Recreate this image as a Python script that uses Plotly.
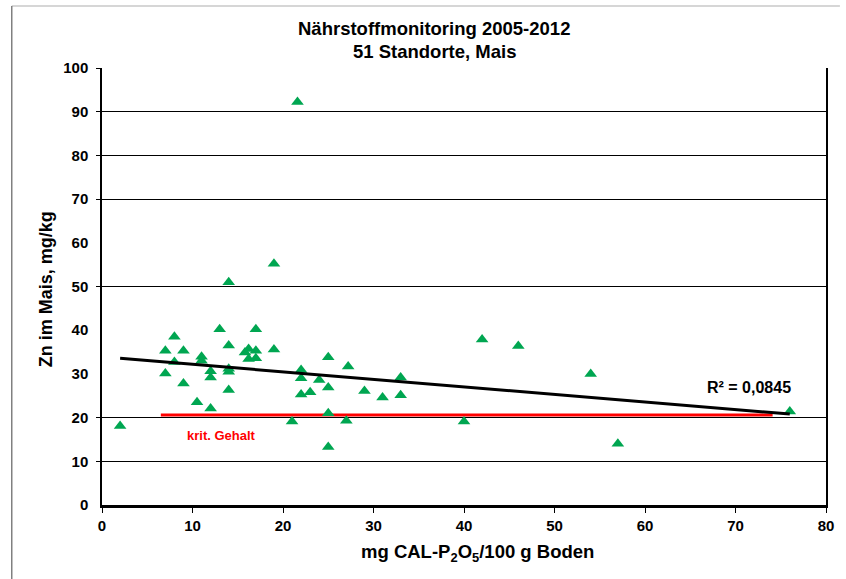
import numpy as np
import plotly.graph_objects as go

# data (main series, used for the trend line)
p2o5 = [2, 8, 7, 9, 8, 7, 9, 10.5, 12, 11, 11, 12, 12, 13, 14, 14, 14, 14, 14,
        17, 15.8, 16.2, 16.2, 17, 17, 19, 19, 22, 22, 22, 23, 24, 25, 25,
        25, 25, 27.2, 27, 21, 29, 31, 33, 33, 42, 46, 54, 76, 40, 57]
zn = [18.1, 38.5, 35.3, 35.3, 32.7, 30.1, 27.8, 23.5, 22.1, 33.9, 33.0, 30.6,
      29.2, 40.2, 36.5, 31.2, 30.5, 26.3, 51.0, 40.2, 34.9, 35.7, 33.4, 35.3,
      33.6, 35.6, 55.2, 30.9, 29.0, 25.3, 25.8, 28.6, 33.8, 26.9, 21.0,
      13.3, 31.7, 19.3, 19.1, 26.1, 24.6, 29.2, 25.1, 37.9, 36.4, 30.0, 21.4,
      19.1, 14.0]
# outlier point (not part of the trend)
outlier_p2o5 = [21.6]
outlier_zn = [92.2]

krit_value = 20.6
krit_x = [6.5, 74.1]
r2_text = "R² = 0,0845"

x_ticks = list(range(0, 81, 10))
y_ticks = list(range(0, 101, 10))
# gridlines / tick marks visible in the reference
y_grid = [10, 20, 50, 70, 80, 90, 100]

# linear trend from the main series
slope, intercept = np.polyfit(p2o5, zn, 1)
tx = np.array([min(p2o5), max(p2o5)])
ty = slope * tx + intercept

green = "#00A651"
fig = go.Figure()
fig.add_trace(go.Scatter(x=krit_x, y=[krit_value, krit_value], mode="lines",
                         line=dict(color="#FF0000", width=3), hoverinfo="skip"))
fig.add_trace(go.Scatter(x=p2o5 + outlier_p2o5, y=zn + outlier_zn, mode="markers",
                         marker=dict(symbol="triangle-up", size=11, color=green),
                         hoverinfo="x+y"))
fig.add_trace(go.Scatter(x=tx, y=ty, mode="lines",
                         line=dict(color="black", width=3), hoverinfo="skip"))

font_family = "Liberation Sans, Arial, sans-serif"

fig.update_layout(
    width=846, height=579,
    margin=dict(l=102, r=14, t=68, b=74),
    paper_bgcolor="white", plot_bgcolor="white",
    showlegend=False,
    font=dict(family=font_family, color="black"),
)
fig.update_xaxes(
    range=[0, 80], tickvals=x_ticks, ticks="outside", ticklen=5, tickcolor="black",
    tickfont=dict(size=15, family=font_family, weight="bold"),
    showline=True, linecolor="black", linewidth=3, showgrid=False, zeroline=False,
)
fig.update_layout(
    yaxis=dict(
        range=[0, 100], tickvals=y_ticks, ticks="", ticklabelstandoff=9,
        tickfont=dict(size=15, family=font_family, weight="bold"),
        showline=True, linecolor="black", linewidth=1.5, mirror=True,
        showgrid=False, zeroline=False,
    ),
    yaxis2=dict(
        range=[0, 100], overlaying="y", side="left", tickvals=y_grid,
        showticklabels=False, ticks="outside", ticklen=5, tickcolor="black",
        showgrid=True, gridcolor="black", gridwidth=1, zeroline=False,
        showline=False,
    ),
)
fig.add_trace(go.Scatter(x=[None], y=[None], yaxis="y2", showlegend=False,
                         hoverinfo="skip"))

ann = [
    dict(text="<b>Nährstoffmonitoring 2005-2012</b>", x=(437 - 102) / 730,
         y=(505 - 28) / 437, xref="paper", yref="paper", showarrow=False,
         font=dict(size=18.5), xanchor="center", yanchor="middle"),
    dict(text="<b>51 Standorte, Mais</b>", x=(437 - 102) / 730,
         y=(505 - 51) / 437, xref="paper", yref="paper", showarrow=False,
         font=dict(size=18.5), xanchor="center", yanchor="middle"),
    dict(text="<b>Zn im Mais, mg/kg</b>", x=(45 - 102) / 730, y=0.495,
         xref="paper", yref="paper", showarrow=False, textangle=-90,
         font=dict(size=18), xanchor="center", yanchor="middle"),
    dict(text="<b>mg CAL-P<sub>2</sub>O<sub>5</sub>/100 g Boden</b>",
         x=(481 - 102) / 730, y=(505 - 553) / 437,
         xref="paper", yref="paper", showarrow=False, font=dict(size=18.5),
         xanchor="center", yanchor="middle"),
    dict(text="<b>krit. Gehalt</b>", x=9.2, y=16.0, xref="x", yref="y",
         showarrow=False, font=dict(size=13, color="#FF0000"),
         xanchor="left", yanchor="middle"),
    dict(text="<b>" + r2_text + "</b>", x=66.6, y=26.8, xref="x", yref="y",
         showarrow=False, font=dict(size=16), xanchor="left", yanchor="middle"),
]
fig.update_layout(annotations=ann)

# outer chart frame (top and left edges visible in the reference)
fig.add_shape(type="line", xref="paper", yref="paper",
              x0=(11 - 102) / 730, x1=(846 - 102) / 730,
              y0=(505 - 6) / 437, y1=(505 - 6) / 437,
              line=dict(color="#C8C8C8", width=1.5))
fig.add_shape(type="line", xref="paper", yref="paper",
              x0=(11 - 102) / 730, x1=(11 - 102) / 730,
              y0=(505 - 6) / 437, y1=(505 - 579) / 437,
              line=dict(color="#808080", width=1.5))

fig.write_html("out.html")
